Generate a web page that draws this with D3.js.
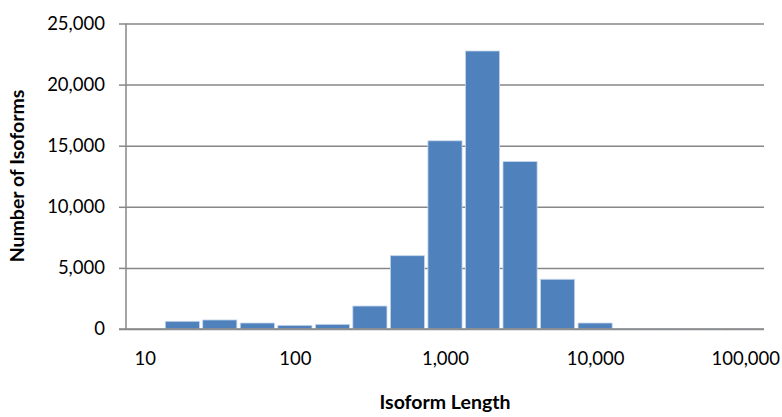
<!DOCTYPE html>
<html>
<head>
<meta charset="utf-8">
<script src="https://cdn.jsdelivr.net/npm/d3@7"></script>
<style>
    body { margin: 0; background: #fff; }
    text { font-family: Lato, "Open Sans", sans-serif; fill: #000; }
</style>
</head>
<body>
<div id="chart"></div>
<script>
// bin centres (log spaced, 4 per decade) and counts
const binCenters = [17.8, 31.6, 56.2, 100, 178, 316, 562, 1000, 1778, 3162, 5623, 10000, 17783, 31623, 56234, 100000];
const counts = [630, 740, 490, 300, 380, 1880, 6000, 15400, 22750, 13700, 4070, 490, 40, 12, 5, 2];
const xTicks = [10, 100, 1000, 10000, 100000];
const yTicks = [0, 5000, 10000, 15000, 20000, 25000];

const width = 782, height = 417;
const half = Math.pow(10, 0.125); // half a bin in log space

const svg = d3.select("#chart")
    .append("svg")
    .attr("width", width)
    .attr("height", height);

const x = d3.scaleLog()
    .domain([Math.pow(10, 0.875), Math.pow(10, 5.125)])
    .range([126, 764]);

const y = d3.scaleLinear()
    .domain([0, 25000])
    .range([329, 23.5]);

const fmt = d3.format(",");

// gridlines + y tick labels
const yAxis = svg.append("g")
    .attr("class", "yAxis")
    .attr("transform", "translate(126,0)")
    .call(d3.axisLeft(y).tickValues(yTicks).tickSize(7).tickPadding(14).tickFormat(fmt))
    .call(g => g.select(".domain").remove());

yAxis.selectAll(".tick line")
    .attr("stroke", "#878787")
    .attr("stroke-width", 1.5);

yAxis.selectAll(".tick")
    .append("line")
    .attr("x1", 0)
    .attr("x2", 764 - 126)
    .attr("stroke", "#878787")
    .attr("stroke-width", 1.5);

yAxis.selectAll(".tick text")
    .style("font-size", "18.5px");

// y axis line
svg.append("line")
    .attr("x1", 126).attr("x2", 126)
    .attr("y1", y(25000)).attr("y2", y(0))
    .attr("stroke", "#878787")
    .attr("stroke-width", 1.5);

// bars
svg.append("g")
    .selectAll("rect")
    .data(binCenters)
    .join("rect")
    .attr("x", d => x(d / half) + 1.7)
    .attr("width", d => x(d * half) - x(d / half) - 3.4)
    .attr("y", (d, i) => y(counts[i]))
    .attr("height", (d, i) => y(0) - y(counts[i]))
    .attr("fill", "#4F81BD")
    .attr("stroke", "#c6d6ec")
    .attr("stroke-width", 0.8);

// x tick labels (no tick marks)
const xAxis = svg.append("g")
    .attr("class", "xAxis")
    .attr("transform", "translate(0,329)")
    .call(d3.axisBottom(x).tickValues(xTicks).tickSize(0).tickPadding(23).tickFormat(fmt))
    .call(g => g.select(".domain").remove());

xAxis.selectAll(".tick text")
    .style("font-size", "18.5px");

// baseline redrawn over the bars
svg.append("line")
    .attr("x1", 119).attr("x2", 764)
    .attr("y1", y(0)).attr("y2", y(0))
    .attr("stroke", "#878787")
    .attr("stroke-width", 1.5);

// axis titles
svg.append("text")
    .text("Isoform Length")
    .attr("x", 445)
    .attr("y", 409)
    .attr("text-anchor", "middle")
    .style("font-size", "19.5px")
    .style("font-weight", "bold");

svg.append("text")
    .text("Number of Isoforms")
    .attr("transform", "translate(24,176) rotate(-90)")
    .attr("text-anchor", "middle")
    .style("font-size", "19.5px")
    .style("font-weight", "bold");
</script>
</body>
</html>
